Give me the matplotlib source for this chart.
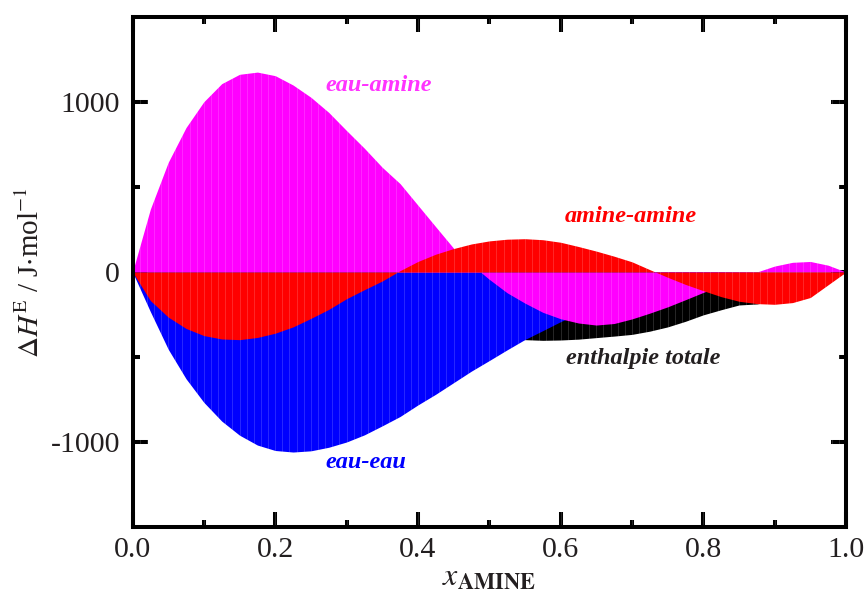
import numpy as np
import matplotlib
matplotlib.use("Agg")
import matplotlib.pyplot as plt

# composition grid (x_AMINE)
x_amine = [0.000, 0.025, 0.050, 0.075, 0.100, 0.125, 0.150, 0.175, 0.200, 0.225,
           0.250, 0.275, 0.300, 0.325, 0.350, 0.375, 0.400, 0.425, 0.450, 0.475,
           0.500, 0.525, 0.550, 0.575, 0.600, 0.625, 0.650, 0.675, 0.700, 0.725,
           0.750, 0.775, 0.800, 0.825, 0.850, 0.875, 0.900, 0.925, 0.950, 0.975, 1.000]

# contributions to excess enthalpy, J/mol
eau_amine = [0, 370, 645, 850, 1002, 1108, 1163, 1176, 1155, 1100,
             1028, 939, 832, 728, 616, 520, 393, 266, 140, 45,
             -43, -122, -183, -237, -275, -300, -312, -303, -276, -242,
             -205, -163, -120, -78, -38, 0, 35, 57, 62, 40, 0]

amine_amine = [0, -168, -265, -332, -374, -394, -398, -385, -360, -323,
               -273, -220, -157, -104, -53, 8, 62, 105, 138, 165,
               183, 193, 196, 190, 175, 150, 123, 93, 60, 14,
               -31, -73, -110, -145, -172, -186, -190, -180, -150, -75, 0]

eau_eau = [0, -233, -454, -628, -767, -877, -960, -1018, -1050, -1059,
           -1052, -1031, -1000, -958, -905, -850, -782, -719, -651, -583,
           -521, -458, -397, -345, -292, -245, -200, -170, -150, -115,
           -85, -45, -15, -3, -1, 0, 0, 0, 0, 0, 0]

enthalpie_totale = [0, -35, -75, -110, -140, -165, -195, -228, -255, -278,
                    -295, -308, -318, -326, -333, -338, -343, -350, -358, -367,
                    -378, -390, -398, -402, -400, -395, -386, -377, -367, -348,
                    -323, -290, -252, -222, -194, -188, -168, -148, -115, -60, 0]

labels = ["eau-amine", "amine-amine", "enthalpie totale", "eau-eau"]
xticks = [0.0, 0.2, 0.4, 0.6, 0.8, 1.0]
yticks = [-1000, 0, 1000]

plt.rcParams['mathtext.fontset'] = 'stix'
plt.rcParams['font.family'] = ['Liberation Serif', 'DejaVu Serif']
plt.rcParams['axes.unicode_minus'] = False

txtcol = '#231f20'
fig = plt.figure(figsize=(8.65, 5.95), dpi=100)
ax = fig.add_axes([0.1532, 0.1143, 0.978 - 0.1532, 0.9714 - 0.1143])

x = np.array(x_amine)
ax.fill_between(x, 0, enthalpie_totale, color='#000000', lw=0, zorder=1)
ax.fill_between(x, 0, eau_eau, color='#0000ff', lw=0, zorder=2)
ax.fill_between(x, 0, eau_amine, color='#ff00ff', lw=0, zorder=3)
ax.fill_between(x, 0, amine_amine, color='#ff0000', lw=0, zorder=4)

# thin bar separators texture
for xv in np.arange(0.01, 1.0, 0.01):
    ax.axvline(xv, color='white', lw=0.5, alpha=0.22, zorder=5)

ax.set_xlim(0, 1)
ax.set_ylim(-1500, 1500)
ax.set_xticks(xticks)
ax.set_xticklabels([f"{v:.1f}" for v in xticks])
ax.set_yticks(yticks)
ax.set_yticklabels([str(v) for v in yticks])
ax.set_xticks(np.arange(0.1, 1.0, 0.2), minor=True)
ax.set_yticks([-500, 500], minor=True)

ax.tick_params(which='both', direction='in', top=True, right=True, width=2.9,
               colors='black', labelcolor=txtcol, labelsize=21.5)
ax.tick_params(which='major', length=11)
ax.tick_params(which='minor', length=5)
ax.tick_params(axis='x', pad=7)
ax.tick_params(axis='y', pad=9)
for s in ax.spines.values():
    s.set_linewidth(2.9)
    s.set_zorder(10)

ax.set_xlabel(r'$x_{\mathbf{AMINE}}$', fontsize=23, color=txtcol, labelpad=0)
ax.set_ylabel(r'$\Delta H^{\mathrm{E}}$ / J$\cdot$mol$^{-1}$', fontsize=21, color=txtcol, labelpad=4)

tk = dict(fontsize=17.5, fontweight='bold', fontstyle='italic', va='center', ha='left', zorder=6)
ax.text(0.271, 1098, labels[0], color='#ff33ff', **tk)
ax.text(0.606, 328, labels[1], color='#ff0000', **tk)
ax.text(0.607, -508, labels[2], color=txtcol, **tk)
ax.text(0.271, -1119, labels[3], color='#0000ff', **tk)

fig.savefig('out.png', dpi=100)
